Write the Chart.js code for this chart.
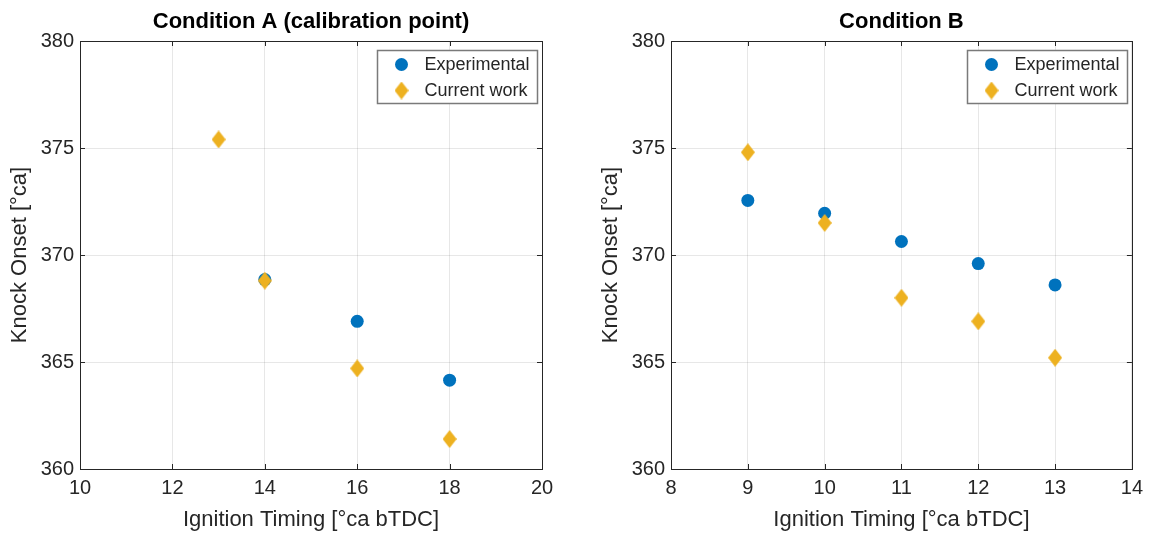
<!DOCTYPE html>
<html>
<head>
<meta charset="utf-8">
<script src="https://cdn.jsdelivr.net/npm/chart.js@4.4.0/dist/chart.umd.min.js"></script>
<style>
  html, body { margin: 0; padding: 0; background: #fff; }
  #wrap { display: flex; width: 1150px; height: 534px; }
</style>
</head>
<body>
<div id="wrap">
  <canvas id="chartA" width="575" height="534"></canvas>
  <canvas id="chartB" width="575" height="534"></canvas>
</div>
<script>
// Condition A (calibration point)
const aExpTiming = [14, 16, 18];
const aExpOnset = [368.85, 366.9, 364.15];
const aCurTiming = [13, 14, 16, 18];
const aCurOnset = [375.4, 368.8, 364.7, 361.4];

// Condition B
const bTiming = [9, 10, 11, 12, 13];
const bExpOnset = [372.55, 371.95, 370.63, 369.6, 368.6];
const bCurOnset = [374.8, 371.5, 368.0, 366.9, 365.2];

const seriesNames = ['Experimental', 'Current work'];
const titles = ['Condition A (calibration point)', 'Condition B'];
const xLabel = 'Ignition Timing [°ca bTDC]';
const yLabel = 'Knock Onset [°ca]';

const FONT = '"Liberation Sans", Arial, Helvetica, sans-serif';
const TEXT = '#262626';
const BLUE = '#0072BD';
const GOLD = '#EDB120';

// MATLAB style diamond (a bit taller than wide)
function makeDiamond(w, h) {
  const c = document.createElement('canvas');
  c.width = w; c.height = h;
  const g = c.getContext('2d');
  g.fillStyle = GOLD;
  g.beginPath();
  g.moveTo(w / 2, 0);
  g.lineTo(w, h / 2);
  g.lineTo(w / 2, h);
  g.lineTo(0, h / 2);
  g.closePath();
  g.fill();
  return c;
}
const diamond = makeDiamond(14, 18);

function toPoints(xs, ys) {
  return xs.map((x, i) => ({ x: x, y: ys[i] }));
}

// box + inward ticks on all four sides
const matlabFrame = {
  id: 'matlabFrame',
  beforeDatasetsDraw(chart) {
    const { ctx, chartArea: a, scales } = chart;
    ctx.save();
    ctx.strokeStyle = TEXT;
    ctx.lineWidth = 1;
    ctx.beginPath();
    scales.x.ticks.forEach(t => {
      const px = Math.round(scales.x.getPixelForValue(t.value)) + 0.5;
      ctx.moveTo(px, a.bottom); ctx.lineTo(px, a.bottom - 5);
      ctx.moveTo(px, a.top); ctx.lineTo(px, a.top + 5);
    });
    scales.y.ticks.forEach(t => {
      const py = Math.round(scales.y.getPixelForValue(t.value)) + 0.5;
      ctx.moveTo(a.left, py); ctx.lineTo(a.left + 5, py);
      ctx.moveTo(a.right, py); ctx.lineTo(a.right - 5, py);
    });
    ctx.stroke();
    ctx.strokeRect(Math.round(a.left) + 0.5, Math.round(a.top) + 0.5,
      Math.round(a.right - a.left), Math.round(a.bottom - a.top));
    ctx.restore();
  }
};

const legendBox = {
  id: 'legendBox',
  afterDatasetsDraw(chart) {
    const { ctx, chartArea: a } = chart;
    const w = 160, h = 53;
    const x0 = Math.round(a.right - 5 - w) + 0.5, y0 = Math.round(a.top + 9) + 0.5;
    ctx.save();
    ctx.fillStyle = '#fff';
    ctx.fillRect(x0, y0, w, h);
    ctx.strokeStyle = '#7a7a7a';
    ctx.lineWidth = 1.5;
    ctx.strokeRect(x0, y0, w, h);
    ctx.font = '18px ' + FONT;
    ctx.textBaseline = 'middle';
    ctx.fillStyle = TEXT;
    seriesNames.forEach((name, i) => {
      const cy = y0 + 14 + i * 26;
      const mx = x0 + 24;
      if (i === 0) {
        ctx.fillStyle = BLUE;
        ctx.beginPath();
        ctx.arc(mx, cy, 6.5, 0, Math.PI * 2);
        ctx.fill();
      } else {
        ctx.drawImage(diamond, mx - diamond.width / 2, cy - diamond.height / 2);
      }
      ctx.fillStyle = TEXT;
      ctx.fillText(name, x0 + 47, cy + 1);
    });
    ctx.restore();
  }
};

const topTitle = {
  id: 'topTitle',
  afterDraw(chart, args, opts) {
    const { ctx, chartArea: a } = chart;
    ctx.save();
    ctx.font = 'bold 22px ' + FONT;
    ctx.fillStyle = '#000';
    ctx.textAlign = 'center';
    ctx.textBaseline = 'middle';
    ctx.fillText(opts.text, (a.left + a.right) / 2, 22);
    ctx.restore();
  }
};

function makeChart(id, title, expData, curData, xmin, xmax, xstep, padLeft, padRight) {
  return new Chart(document.getElementById(id), {
    type: 'scatter',
    data: {
      datasets: [
        {
          label: seriesNames[0],
          data: expData,
          pointStyle: 'circle',
          pointRadius: 6.5,
          pointHoverRadius: 6.5,
          backgroundColor: BLUE,
          borderWidth: 0,
          order: 1
        },
        {
          label: seriesNames[1],
          data: curData,
          pointStyle: diamond,
          pointRadius: 9,
          pointHoverRadius: 9,
          backgroundColor: GOLD,
          borderWidth: 0,
          order: 0
        }
      ]
    },
    options: {
      responsive: false,
      animation: false,
      events: [],
      devicePixelRatio: 1,
      layout: { padding: { top: 41, left: padLeft, right: padRight, bottom: 0 } },
      plugins: {
        legend: { display: false },
        tooltip: { enabled: false },
        topTitle: { text: title }
      },
      scales: {
        x: {
          type: 'linear',
          min: xmin, max: xmax,
          ticks: { stepSize: xstep, color: TEXT, font: { family: FONT, size: 20 }, padding: 7, maxRotation: 0 },
          grid: { color: 'rgba(38,38,38,0.11)', drawTicks: false },
          border: { display: false },
          title: { display: true, text: xLabel, color: TEXT, font: { family: FONT, size: 22 }, padding: { top: 0, bottom: 1 } },
          afterFit(s) { s.height = 65; }
        },
        y: {
          min: 360, max: 380,
          ticks: { stepSize: 5, color: TEXT, font: { family: FONT, size: 20 }, padding: 6 },
          grid: { color: 'rgba(38,38,38,0.11)', drawTicks: false },
          border: { display: false },
          title: { display: true, text: yLabel, color: TEXT, font: { family: FONT, size: 22 }, padding: { top: 7, bottom: 0 } },
          afterFit(s) { s.width = 80; }
        }
      }
    },
    plugins: [matlabFrame, legendBox, topTitle]
  });
}

makeChart('chartA', titles[0], toPoints(aExpTiming, aExpOnset), toPoints(aCurTiming, aCurOnset), 10, 20, 2, 0, 33);
makeChart('chartB', titles[1], toPoints(bTiming, bExpOnset), toPoints(bTiming, bCurOnset), 8, 14, 1, 16, 17);
</script>
</body>
</html>
